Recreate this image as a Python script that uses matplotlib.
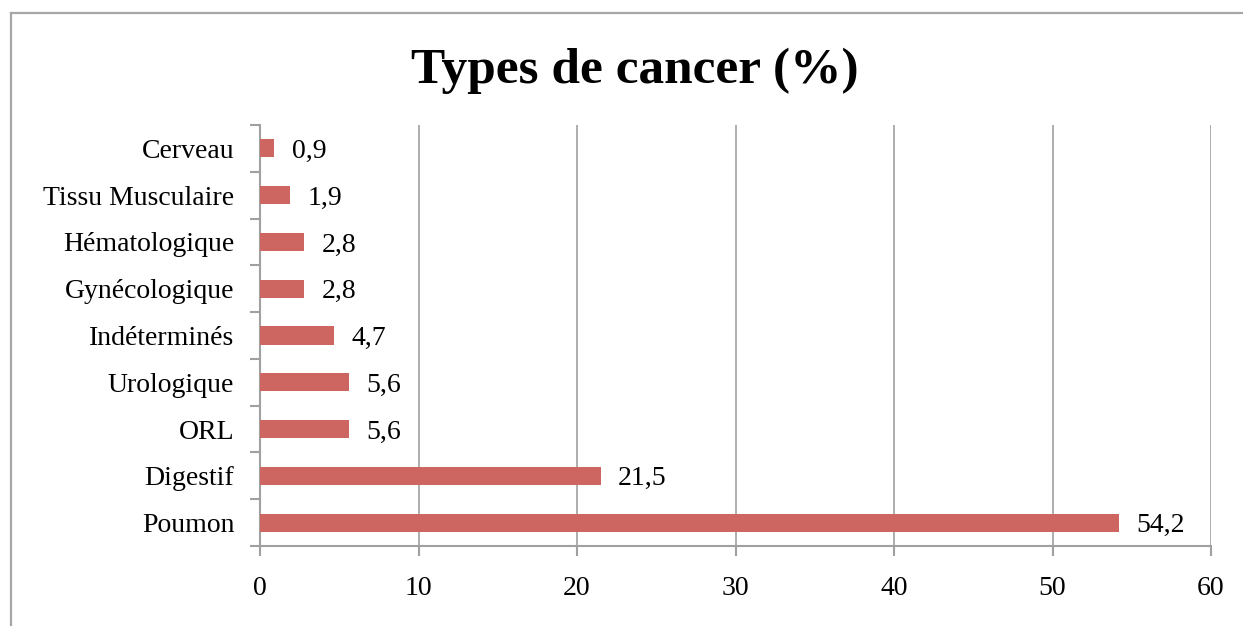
import matplotlib
matplotlib.use("Agg")
import matplotlib.pyplot as plt
from matplotlib.lines import Line2D

categories = ["Poumon", "Digestif", "ORL", "Urologique", "Indéterminés",
              "Gynécologique", "Hématologique", "Tissu Musculaire", "Cerveau"]
values = [54.2, 21.5, 5.6, 5.6, 4.7, 2.8, 2.8, 1.9, 0.9]
labels = ["54,2", "21,5", "5,6", "5,6", "4,7", "2,8", "2,8", "1,9", "0,9"]
xticks = [0, 10, 20, 30, 40, 50, 60]

plt.rcParams['font.family'] = ['Liberation Serif', 'DejaVu Serif']

W, H = 1243, 626
fig = plt.figure(figsize=(W / 100, H / 100), dpi=100)
fig.patch.set_facecolor('white')

# outer chart border (top and left visible)
border_col = '#A6A6A6'
fig.add_artist(Line2D([11 / W, 1.0], [1 - 13 / H, 1 - 13 / H], color=border_col, lw=1.6,
                      transform=fig.transFigure))
fig.add_artist(Line2D([11 / W, 11 / W], [0.0, 1 - 13 / H], color=border_col, lw=1.6,
                      transform=fig.transFigure))

ax = fig.add_axes([260 / W, 1 - 546 / H, (1211 - 260) / W, (546 - 125) / H])
ypos = list(range(len(categories)))
ax.barh(ypos, values, height=0.385, color='#CD6660', zorder=3)
ax.set_xlim(0, 60)
ax.set_ylim(-0.5, len(categories) - 0.5)
ax.set_xticks(xticks)
ax.set_xticklabels([str(t) for t in xticks], fontsize=20)
ax.set_yticks(ypos)
ax.set_yticklabels(categories, fontsize=20)
ax.tick_params(axis='y', length=0, pad=18.5)
ax.tick_params(axis='x', length=7, width=1.5, color='#A0A0A0', pad=14.5)
# minor ticks at category boundaries on y axis
ax.set_yticks([i - 0.5 for i in range(len(categories) + 1)], minor=True)
ax.tick_params(axis='y', which='minor', length=7, width=1.5, color='#A0A0A0')

ax.grid(axis='x', color='#A0A0A0', lw=1.2, zorder=0)
for s in ['top', 'right']:
    ax.spines[s].set_visible(False)
for s in ['left', 'bottom']:
    ax.spines[s].set_color('#A0A0A0')
    ax.spines[s].set_linewidth(1.5)

for y, v, lab in zip(ypos, values, labels):
    ax.text(v + 1.1, y, lab, va='center_baseline', ha='left', fontsize=20)

fig.text(635 / W, 1 - 71 / H, "Types de cancer (%)", ha='center', va='center',
         fontsize=37, fontweight='bold')

fig.savefig("out.png", dpi=100)
